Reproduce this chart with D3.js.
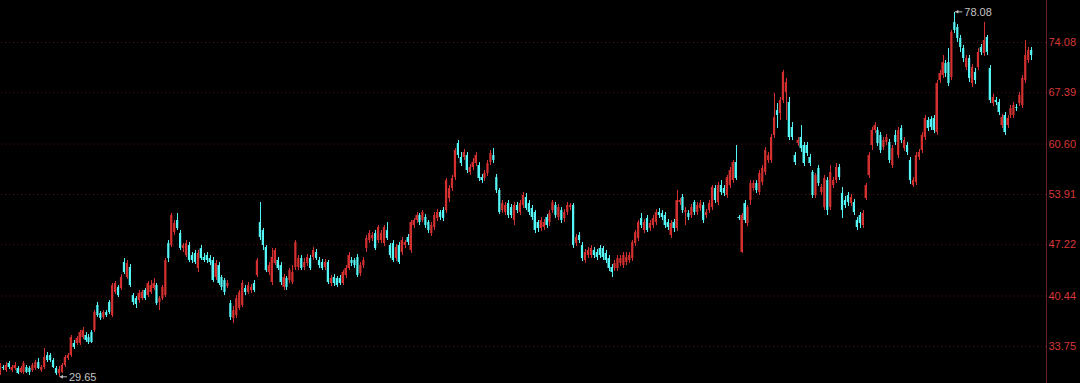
<!DOCTYPE html>
<html>
<head>
<meta charset="utf-8">
<script src="https://cdn.jsdelivr.net/npm/d3@7"></script>
<style>
  html, body { margin: 0; padding: 0; background: #000; }
  svg { display: block; }
</style>
</head>
<body>
<div id="kline_div"></div>
<script>
// daily candles: [open, high, low, close]
var ohlc = [
[30.15,31.48,29.89,31.22],[30.95,31.22,30.55,30.82],[30.55,31.61,30.29,31.22],[31.48,31.75,30.69,30.95],
[30.55,31.22,30.29,30.95],[30.82,31.61,30.55,31.22],[30.82,31.08,30.02,30.15],[30.29,31.08,30.15,30.82],
[30.29,31.75,30.02,31.48],[30.95,31.22,30.15,30.29],[30.82,31.08,29.89,30.29],[30.55,31.48,30.29,31.22],
[30.82,31.88,30.55,31.61],[31.61,32.15,30.69,30.82],[30.55,31.22,30.29,30.95],[30.95,33.47,30.69,32.28],
[32.54,32.94,31.61,31.88],[32.54,32.81,31.61,31.88],[31.88,32.15,30.82,30.95],[30.82,31.08,29.89,30.15],
[30.15,31.08,29.65,30.69],[30.29,31.48,30.15,31.22],[31.22,32.54,30.95,32.28],[32.15,32.81,31.88,32.54],
[32.54,35.20,32.28,34.93],[34.14,34.53,33.34,33.61],[34.14,35.06,33.87,34.80],[34.14,35.86,33.87,35.59],
[34.93,36.26,34.67,35.86],[35.20,35.59,34.27,34.53],[34.93,35.33,34.00,34.27],[35.59,35.86,34.14,34.27],
[35.86,38.51,35.59,38.25],[39.18,39.58,37.59,37.85],[38.12,38.38,37.19,37.45],[37.59,38.51,37.32,38.25],
[38.25,38.51,37.59,37.85],[39.58,39.84,37.98,38.25],[37.85,42.10,37.59,41.83],[40.90,42.36,40.64,42.10],
[41.57,41.83,40.24,40.50],[41.43,43.29,41.17,42.89],[44.88,45.41,43.29,43.56],[42.89,45.15,42.63,44.75],
[44.22,44.62,41.57,41.83],[40.50,40.77,39.18,39.58],[40.10,40.37,38.78,39.31],[39.84,41.17,39.44,40.77],
[40.10,41.17,39.84,40.90],[41.17,41.43,39.84,40.10],[40.50,42.36,40.24,42.10],[40.90,42.49,40.64,41.83],
[41.43,42.76,41.17,42.10],[41.83,42.10,39.18,39.44],[39.58,40.37,38.51,40.10],[40.10,41.83,39.84,41.57],
[40.50,45.41,40.24,45.15],[47.40,47.80,44.88,45.41],[47.14,51.39,46.87,51.12],[48.86,50.46,48.47,50.06],
[50.46,51.39,49.13,49.40],[48.73,49.13,46.48,46.74],[46.74,47.40,46.21,47.14],[45.81,47.80,45.55,47.40],
[47.14,47.54,44.88,45.15],[45.81,46.21,44.75,45.15],[46.08,46.48,44.62,44.88],[44.09,46.48,43.56,46.08],
[46.74,47.14,45.15,45.41],[45.55,46.08,44.88,45.15],[45.81,46.21,44.75,45.15],[45.41,45.81,44.48,44.88],
[45.15,45.55,42.23,42.49],[42.89,45.15,42.49,44.75],[44.48,44.88,41.83,42.10],[42.89,43.16,41.17,41.57],
[42.49,42.76,40.50,40.90],[41.70,42.49,41.43,42.10],[39.44,39.84,37.19,37.59],[37.45,39.04,36.79,38.51],
[37.85,40.50,37.45,40.10],[38.78,41.17,38.51,40.90],[39.18,42.49,38.91,42.10],[41.43,41.83,40.50,40.90],
[40.90,42.23,40.64,41.83],[41.17,41.96,40.77,41.57],[42.10,42.49,40.90,41.17],[43.16,45.41,42.89,45.15],
[50.19,52.85,47.80,48.20],[49.13,49.40,46.48,47.14],[46.87,47.14,43.56,43.82],[43.56,44.88,43.16,44.48],
[42.23,46.74,41.83,45.55],[44.75,46.74,44.48,46.48],[45.15,45.55,43.82,44.09],[44.48,44.88,41.83,42.23],
[41.57,43.29,41.17,42.89],[42.76,43.02,41.17,41.57],[42.49,44.09,42.10,43.82],[42.23,44.48,41.96,43.56],
[44.22,47.80,43.82,47.54],[44.22,45.81,43.82,45.41],[45.41,45.81,43.82,44.09],[44.22,45.41,43.82,44.88],
[44.75,45.94,44.35,45.55],[45.41,45.81,43.82,44.09],[45.55,46.87,45.15,46.48],[46.21,46.61,45.15,45.41],
[45.15,45.55,44.09,44.48],[44.88,45.28,43.82,44.09],[44.22,45.28,43.82,44.88],[44.88,45.15,41.96,42.23],
[42.10,43.16,41.70,42.76],[42.89,43.29,41.70,42.10],[42.76,43.02,41.57,41.83],[42.76,43.16,41.83,42.10],
[42.10,43.82,41.83,43.56],[43.16,44.48,42.76,44.09],[44.09,46.21,43.82,45.81],[45.15,45.55,44.35,44.75],
[45.15,45.41,44.09,44.48],[45.55,45.94,42.89,43.16],[43.42,44.88,43.02,44.48],[44.48,45.55,44.09,45.15],
[46.74,48.47,46.21,48.07],[47.80,49.13,47.40,48.73],[48.07,48.86,47.67,48.47],[48.73,49.13,46.48,46.74],
[47.80,49.79,47.40,49.53],[47.80,49.13,47.40,48.73],[47.40,49.79,47.01,49.53],[49.13,50.19,47.80,48.07],
[47.14,47.40,45.41,45.81],[47.40,47.80,44.88,45.15],[45.41,47.27,45.02,46.87],[47.14,47.54,44.62,44.88],
[46.21,48.20,45.81,47.80],[47.14,47.80,46.74,47.54],[48.20,48.60,47.14,47.54],[46.48,50.46,46.08,50.19],
[49.79,50.72,49.40,50.46],[50.46,51.52,50.06,51.12],[51.12,51.39,49.79,50.19],[50.46,51.78,50.19,51.52],
[50.86,51.25,49.40,49.79],[50.19,50.46,48.73,49.13],[48.73,50.19,48.33,49.79],[49.53,51.52,49.13,51.12],
[50.72,51.92,50.32,51.52],[51.52,51.78,50.46,50.86],[51.78,52.18,50.32,50.72],[51.78,56.03,51.39,55.76],
[53.38,55.10,52.85,54.70],[54.70,56.43,54.31,56.03],[56.16,60.01,55.76,59.75],[60.67,61.07,58.68,59.08],
[58.82,59.48,57.62,58.02],[58.82,59.88,58.42,59.48],[59.08,59.48,56.69,57.09],[56.83,57.89,56.43,57.49],
[57.49,58.68,57.09,58.15],[58.02,59.48,57.62,59.08],[57.75,58.15,55.63,56.03],[56.16,56.56,55.37,55.76],
[56.03,57.09,55.63,56.69],[56.69,58.42,56.30,58.02],[58.15,59.75,57.75,59.35],[59.08,60.01,58.02,58.42],
[56.16,56.56,54.04,54.44],[54.44,54.70,51.25,51.52],[51.78,53.11,51.39,52.71],[51.52,52.85,51.12,52.45],
[52.71,53.11,50.72,51.12],[52.18,52.58,50.72,51.12],[50.46,52.85,49.79,52.45],[52.45,52.85,51.39,51.78],
[51.52,53.11,51.12,52.71],[52.45,54.17,52.05,53.77],[53.51,54.04,51.78,52.05],[52.71,53.11,51.12,51.52],
[52.05,52.45,50.46,50.86],[51.52,51.78,48.73,49.13],[50.19,50.46,48.86,49.40],[49.40,50.86,49.00,50.46],
[49.53,50.59,49.13,50.19],[50.86,51.25,49.40,49.79],[50.19,51.78,49.66,51.39],[51.78,53.11,51.39,52.85],
[52.45,52.85,50.72,51.12],[50.86,52.58,50.46,52.18],[51.78,52.18,50.06,50.46],[50.72,51.92,50.19,51.52],
[51.52,52.85,51.12,52.45],[52.18,52.71,51.78,52.45],[52.45,52.71,46.74,47.14],[47.40,48.60,47.01,48.20],
[48.47,48.86,47.40,47.80],[47.14,47.54,45.02,45.41],[45.15,46.61,44.75,46.21],[45.81,46.87,45.41,46.48],
[45.81,47.14,45.41,46.74],[46.48,46.87,45.41,45.81],[46.21,46.61,45.15,45.55],[46.74,47.14,45.41,45.81],
[46.74,47.01,45.15,45.55],[46.08,46.48,44.75,45.15],[45.41,45.81,43.69,44.09],[44.22,44.62,42.89,43.56],
[44.09,45.15,43.69,44.75],[44.09,45.81,43.69,45.41],[44.75,45.81,44.35,45.41],[44.48,46.21,44.09,45.81],
[44.88,46.21,44.48,45.55],[45.15,46.21,44.75,45.81],[45.41,47.80,45.02,47.54],[47.40,49.13,47.01,48.86],
[48.07,50.46,47.67,50.19],[50.72,51.39,49.40,49.79],[49.13,50.59,48.73,50.19],[50.72,51.12,48.86,49.13],
[49.40,50.46,49.00,50.06],[49.79,51.12,49.40,50.72],[50.19,51.92,49.79,51.52],[51.52,52.05,50.72,51.12],
[51.39,51.78,50.46,50.86],[51.12,51.52,49.40,49.79],[50.19,50.59,49.13,49.53],[48.47,50.46,48.07,50.06],
[50.19,50.59,48.86,49.40],[49.40,54.44,49.00,53.11],[52.85,53.38,52.45,53.11],[53.51,53.91,51.39,51.78],
[51.52,52.18,49.79,51.78],[51.39,51.78,50.46,50.86],[51.12,52.58,50.72,52.18],[52.85,53.11,51.12,51.52],
[51.52,52.85,51.12,52.45],[52.05,53.11,51.65,52.71],[52.45,52.85,50.06,50.46],[51.12,51.92,50.72,51.52],
[51.78,53.11,51.39,52.71],[52.18,55.10,51.78,54.84],[54.70,55.10,52.71,53.11],[52.85,55.50,52.45,55.10],
[55.10,55.76,53.77,54.17],[54.70,55.10,53.64,54.04],[53.77,56.43,53.38,56.16],[55.10,57.49,54.70,57.09],
[55.76,58.42,55.37,58.15],[58.15,60.41,55.76,56.03],[50.86,51.12,50.46,50.72],[46.21,51.39,46.08,51.12],
[52.71,53.11,50.06,50.46],[50.06,52.45,49.66,52.18],[53.11,55.76,52.45,55.37],[54.70,55.76,54.31,55.37],
[55.37,55.76,54.04,54.44],[54.17,57.09,53.77,56.69],[55.50,57.75,55.10,57.36],[56.83,60.14,56.43,59.75],
[58.42,59.48,58.02,59.08],[58.42,61.87,58.02,61.47],[61.74,67.31,61.34,64.12],[65.05,65.98,62.66,64.39],
[64.65,66.78,63.73,66.38],[66.38,70.36,65.98,70.10],[67.44,69.30,63.73,68.77],[66.12,66.78,61.07,61.47],
[62.80,63.46,61.07,61.47],[59.08,59.48,57.75,58.15],[60.67,61.47,60.28,61.07],[61.47,63.06,59.48,60.01],
[60.41,60.81,57.62,58.02],[60.41,60.81,58.95,59.35],[58.82,59.22,57.62,58.02],[56.83,57.09,53.38,53.77],
[53.77,56.69,53.38,56.43],[57.36,57.75,54.97,55.37],[54.17,55.23,53.77,54.84],[52.18,56.43,51.78,56.03],
[55.76,56.16,51.12,51.78],[52.18,57.75,51.78,56.83],[55.10,56.16,54.70,55.76],[55.76,58.02,55.37,57.49],
[57.49,57.89,55.76,56.16],[54.04,54.84,50.72,51.78],[53.11,53.64,52.05,52.45],[53.77,54.17,52.32,52.85],
[52.71,53.91,52.32,53.51],[52.85,53.25,51.12,51.52],[50.46,50.86,49.13,49.53],[51.12,51.52,49.40,50.06],
[49.79,51.78,49.40,51.39],[53.38,55.37,53.11,55.10],[56.43,59.48,56.03,59.08],[60.41,62.80,59.75,62.40],
[62.40,63.46,62.00,63.06],[62.40,62.80,60.28,60.67],[61.74,62.13,59.35,59.75],[60.14,61.47,59.75,61.07],
[60.81,61.87,60.41,61.47],[60.81,61.21,58.02,58.42],[57.75,60.41,57.36,60.01],[61.74,62.40,60.41,60.81],
[59.08,62.80,58.68,62.40],[62.66,63.06,60.67,61.07],[60.01,61.47,59.61,61.07],[60.41,60.81,59.08,59.48],
[58.42,58.82,55.23,55.76],[55.10,56.16,54.84,55.76],[55.50,59.48,55.10,59.08],[58.82,59.88,58.42,59.48],
[59.75,62.13,59.35,61.74],[61.47,64.39,61.07,63.99],[63.73,64.12,62.27,62.66],[63.86,64.25,62.40,62.80],
[63.99,64.39,62.00,62.40],[62.13,69.03,61.74,68.64],[69.03,70.36,68.64,69.96],[69.70,72.35,69.30,71.42],
[71.29,71.69,69.43,69.96],[71.42,73.28,68.24,68.64],[69.43,75.67,69.03,75.40],[76.73,78.08,75.27,75.67],
[76.07,76.46,74.08,74.61],[74.61,75.01,72.75,73.41],[73.28,73.68,71.42,71.95],[70.76,72.35,70.36,71.95],
[71.95,72.35,68.77,69.30],[68.64,71.16,68.11,70.76],[70.10,70.63,68.50,69.03],[70.76,73.28,70.36,72.75],
[73.41,73.81,72.35,72.75],[72.62,76.73,72.22,74.34],[74.74,75.01,72.35,72.75],[70.63,71.02,65.98,66.38],
[65.98,67.18,65.59,66.78],[66.38,66.78,65.72,66.12],[66.12,66.51,64.39,64.79],[63.06,64.52,62.66,64.12],
[64.39,64.79,61.74,62.13],[63.06,64.39,62.66,63.99],[64.39,65.72,63.99,65.32],[64.39,66.12,63.99,65.72],
[65.45,65.85,64.92,65.32],[65.98,67.44,65.59,67.04],[65.72,69.70,65.32,69.30],[69.03,74.34,68.64,72.35],
[71.69,73.41,71.29,73.02],[73.02,73.41,71.69,72.35]
];

// price labels on the right axis
var yTicks = [33.75, 40.44, 47.22, 53.91, 60.60, 67.39, 74.08];

var w = 1080;
var h = 383;
var plotRight = 1046; // where the price axis sits

var upColor = '#d3302f';
var downColor = '#54f6f6';

var svg = d3.select('#kline_div')
    .append('svg')
    .attr('width', w)
    .attr('height', h)
    .style('background', '#000');

var xScale = d3.scaleBand()
    .domain(d3.range(ohlc.length))
    .range([-2, 1033])
    .padding(0.25);

var yScale = d3.scaleLinear()
    .domain([28.83, 79.65])
    .range([h, 0]);

// dotted grid
var grid = svg.append('g')
    .attr('class', 'grid')
    .attr('transform', `translate(${plotRight}, 0)`)
    .call(d3.axisLeft(yScale).tickValues(yTicks).tickSize(plotRight).tickFormat(''));
grid.select('.domain').remove();
grid.selectAll('line')
    .attr('stroke', '#561414')
    .attr('stroke-dasharray', '1,3');

// right price axis
var yAxis = svg.append('g')
    .attr('class', 'y-axis')
    .attr('transform', `translate(${plotRight + 0.5}, 0)`)
    .call(d3.axisRight(yScale).tickValues(yTicks).tickSize(0).tickPadding(2).tickFormat(d3.format('.2f')));
yAxis.select('.domain')
    .attr('d', `M0,0V${h}`)
    .attr('stroke', '#6e2020');
yAxis.selectAll('text')
    .attr('fill', '#d83838')
    .style('font-family', '"Liberation Sans", Arial, sans-serif')
    .style('font-size', '11px');

var candles = svg.append('g')
    .attr('class', 'candles')
    .selectAll('g')
    .data(ohlc)
    .enter()
    .append('g')
    .attr('fill', d => d[3] >= d[0] ? upColor : downColor)
    .attr('stroke', d => d[3] >= d[0] ? upColor : downColor);

candles.append('line')
    .attr('x1', (d, i) => Math.round(xScale(i) + xScale.bandwidth() / 2) + 0.5)
    .attr('x2', (d, i) => Math.round(xScale(i) + xScale.bandwidth() / 2) + 0.5)
    .attr('y1', d => yScale(d[1]))
    .attr('y2', d => yScale(d[2]))
    .attr('stroke-width', 1);

candles.append('rect')
    .attr('x', (d, i) => xScale(i))
    .attr('width', xScale.bandwidth())
    .attr('y', d => yScale(Math.max(d[0], d[3])))
    .attr('height', d => Math.max(1, Math.abs(yScale(d[0]) - yScale(d[3]))))
    .attr('stroke', 'none');

// max / min markers
function marker(i, price) {
    var cx = xScale(i) + xScale.bandwidth() / 2;
    var y = yScale(price);
    var g = svg.append('g').attr('class', 'marker');
    g.append('path')
        .attr('d', `M${cx + 1},${y}L${cx + 8},${y}`)
        .attr('stroke', '#bfbfbf')
        .attr('stroke-width', 1);
    g.append('path')
        .attr('d', `M${cx + 1},${y}l3,-2v4z`)
        .attr('fill', '#bfbfbf');
    g.append('text')
        .attr('x', cx + 10)
        .attr('y', y)
        .attr('dy', '0.35em')
        .attr('fill', '#c4c4c4')
        .style('font-family', '"Liberation Sans", Arial, sans-serif')
        .style('font-size', '11px')
        .text(d3.format('.2f')(price));
}
var hiIdx = d3.maxIndex(ohlc, d => d[1]);
var loIdx = d3.minIndex(ohlc, d => d[2]);
marker(hiIdx, ohlc[hiIdx][1]);
marker(loIdx, ohlc[loIdx][2]);
</script>
</body>
</html>
